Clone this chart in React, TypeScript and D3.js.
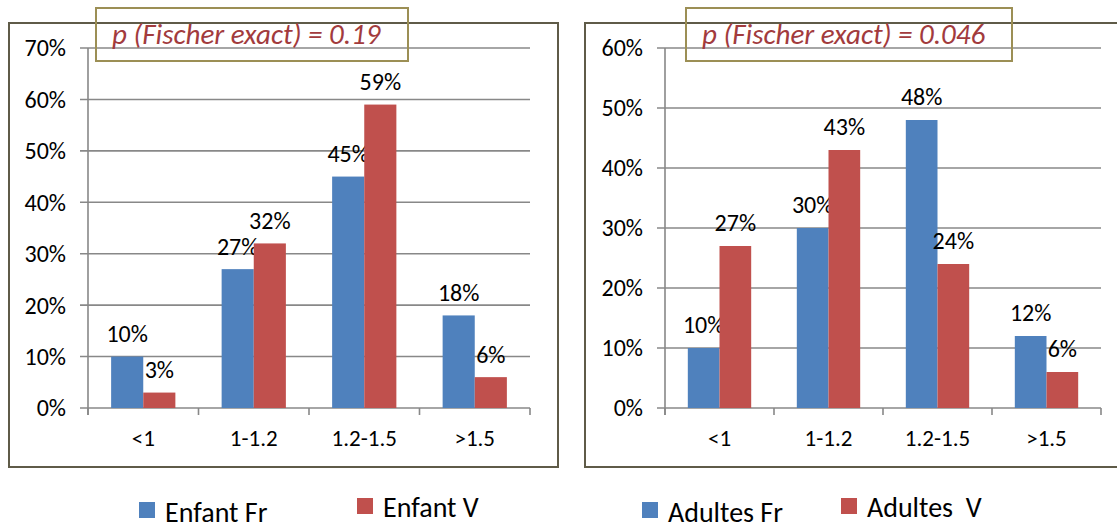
import React from "react";
import * as d3 from "d3";

const categories = ["<1", "1-1.2", "1.2-1.5", ">1.5"];
const enfantFr = [10, 27, 45, 18];
const enfantV = [3, 32, 59, 6];
const adultesFr = [10, 30, 48, 12];
const adultesV = [27, 43, 24, 6];
const leftTicks = [0, 10, 20, 30, 40, 50, 60, 70];
const rightTicks = [0, 10, 20, 30, 40, 50, 60];
const leftSeries = ["Enfant Fr", "Enfant V"];
const rightSeries = ["Adultes Fr", "Adultes  V"];
const leftP = "p (Fischer exact) = 0.19";
const rightP = "p (Fischer exact) = 0.046";

const BLUE = "#4f81bd";
const RED = "#c0504d";
const FONT = "Carlito, Lato, 'Liberation Sans', sans-serif";

type PanelProps = {
  frame: [number, number, number, number];
  x0: number;
  x1: number;
  y0: number;
  y1: number;
  max: number;
  ticks: number[];
  a: number[];
  b: number[];
  series: string[];
  pText: string;
  pBox: [number, number, number, number];
  legendX: [number, number];
};

function Panel(p: PanelProps) {
  const x = d3.scaleBand<string>().domain(categories).range([p.x0, p.x1]).paddingInner(0).paddingOuter(0);
  const inner = d3.scaleBand<number>().domain([0, 1]).range([0, x.bandwidth()]).paddingInner(0).paddingOuter(0.72);
  const y = d3.scaleLinear().domain([0, p.max]).range([p.y0, p.y1]);
  const [fx, fy, fw, fh] = p.frame;
  const [bx, by, bw, bh] = p.pBox;
  const bounds = categories.map((c) => x(c)!).concat([p.x1]);
  return (
    <g>
      <rect x={fx} y={fy} width={fw} height={fh} fill="#fff" stroke="#5f5b48" strokeWidth={2} />
      {p.ticks.map((t) => (
        <g key={t}>
          <line x1={p.x0 - 8} x2={p.x1} y1={y(t)} y2={y(t)} stroke="#888" strokeWidth={1.6} />
          <text x={p.x0 - 22} y={y(t)} dy="0.35em" textAnchor="end" fontSize={24} fontFamily={FONT} fill="#000">
            {t}%
          </text>
        </g>
      ))}
      <line x1={p.x0} x2={p.x0} y1={y(p.max)} y2={y(0) + 7} stroke="#888" strokeWidth={1.6} />
      {bounds.map((bx2, i) => (
        <line key={i} x1={bx2} x2={bx2} y1={y(0)} y2={y(0) + 7} stroke="#888" strokeWidth={1.6} />
      ))}
      {categories.map((c, i) => (
        <g key={c}>
          {[p.a[i], p.b[i]].map((v, j) => {
            const bxx = x(c)! + inner(j)!;
            return (
              <g key={j}>
                <rect x={bxx} y={y(v)} width={inner.bandwidth()} height={y(0) - y(v)} fill={j === 0 ? BLUE : RED} />
                <text
                  x={bxx + inner.bandwidth() / 2}
                  y={y(v) - 23}
                  dy="0.35em"
                  textAnchor="middle"
                  fontSize={24}
                  fontFamily={FONT}
                  fill="#000"
                >
                  {v}%
                </text>
              </g>
            );
          })}
          <text x={x(c)! + x.bandwidth() / 2} y={y(0) + 30} dy="0.35em" textAnchor="middle" fontSize={23} fontFamily={FONT} fill="#000">
            {c}
          </text>
        </g>
      ))}
      <rect x={bx} y={by} width={bw} height={bh} fill="none" stroke="#9c8f55" strokeWidth={2} />
      <text x={bx + 16} y={by + 26} dy="0.35em" fontSize={29} fontStyle="italic" fontFamily={FONT} fill="#a23b3d">
        {p.pText}
      </text>
      <rect x={p.legendX[0]} y={502} width={16} height={16} fill={BLUE} />
      <text x={p.legendX[0] + 26} y={512} dy="0.35em" fontSize={28} fontFamily={FONT} fill="#000">
        {p.series[0]}
      </text>
      <rect x={p.legendX[1]} y={498} width={16} height={16} fill={RED} />
      <text x={p.legendX[1] + 26} y={507} dy="0.35em" fontSize={28} fontFamily={FONT} fill="#000" style={{ whiteSpace: "pre" }}>
        {p.series[1]}
      </text>
    </g>
  );
}

export default function App() {
  return (
    <svg
      width={1117}
      height={524}
      style={{ position: "absolute", left: 0, top: 0, background: "#fff" }}
      xmlSpace="preserve"
    >
      <rect x={0} y={0} width={1117} height={524} fill="#fff" />
      <Panel
        frame={[9, 23, 549, 444]}
        x0={88}
        x1={530}
        y0={408}
        y1={48}
        max={70}
        ticks={leftTicks}
        a={enfantFr}
        b={enfantV}
        series={leftSeries}
        pText={leftP}
        pBox={[96, 8, 312, 53]}
        legendX={[139, 357]}
      />
      <Panel
        frame={[585, 23, 540, 444]}
        x0={665}
        x1={1101}
        y0={408}
        y1={48}
        max={60}
        ticks={rightTicks}
        a={adultesFr}
        b={adultesV}
        series={rightSeries}
        pText={rightP}
        pBox={[686, 8, 326, 53]}
        legendX={[642, 841]}
      />
    </svg>
  );
}
